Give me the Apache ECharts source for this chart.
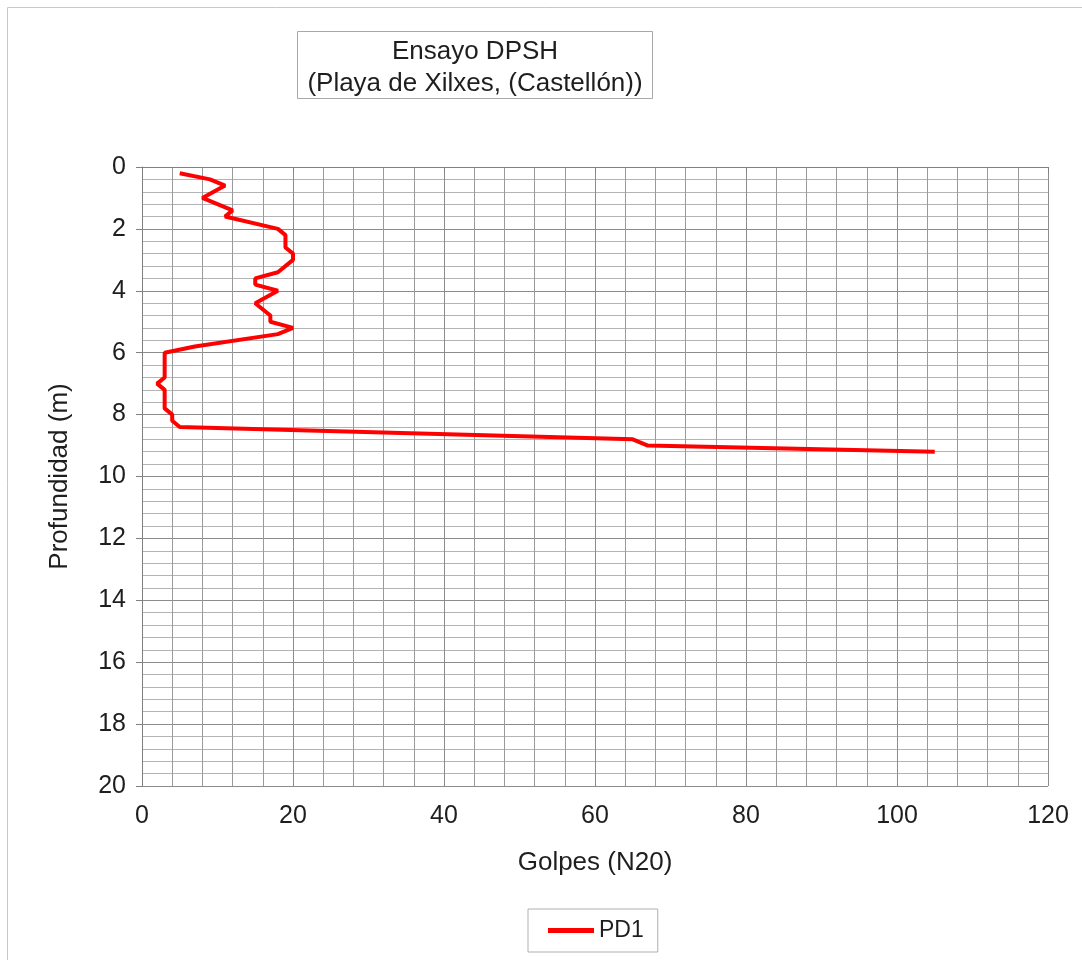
<!DOCTYPE html>
<html>
<head>
<meta charset="utf-8">
<script src="https://cdn.jsdelivr.net/npm/echarts@6/dist/echarts.min.js"></script>
<style>
html,body{margin:0;padding:0;background:#fff;}
#chart{width:1082px;height:960px;}
</style>
</head>
<body>
<div id="chart"></div>
<script>
// Depth (m) and blow counts (N20) for DPSH test PD1
const seriesName = 'PD1';
const depth  = [0.2, 0.4, 0.6, 1.0, 1.4, 1.6, 2.0, 2.2, 2.6, 2.8, 3.0, 3.4, 3.6, 3.8, 4.0, 4.4, 4.8, 5.0, 5.2, 5.4, 5.8, 6.0, 6.8, 7.0, 7.2, 7.8, 8.0, 8.2, 8.4, 8.8, 9.0, 9.2];
const golpes = [5,   9,   11,  8,   12,  11,  18,  19,  19,  20,  20,  18,  15,  15,  18,  15,  17,  17,  20,  18,  7,   3,   3,   2,   3,   3,   4,   4,   5,   65,  67,  105];
const xTicks = [0, 20, 40, 60, 80, 100, 120];
const yTicks = [0, 2, 4, 6, 8, 10, 12, 14, 16, 18, 20];
const titleLines = ['Ensayo DPSH', '(Playa de Xilxes, (Castellón))'];
const xName = 'Golpes (N20)';
const yName = 'Profundidad (m)';

const FONT = '"Liberation Sans", Arial, sans-serif';
const TXT = '#1e1e1e';

const chart = echarts.init(document.getElementById('chart'));
const points = depth.map((d, i) => [golpes[i], d]);

chart.setOption({
  backgroundColor: '#fff',
  animation: false,
  grid: { left: 142, top: 167, right: 34, bottom: 174, containLabel: false },
  xAxis: {
    type: 'value',
    min: xTicks[0], max: xTicks[xTicks.length - 1], interval: 20,
    name: xName, nameLocation: 'middle', nameGap: 64,
    nameTextStyle: { fontFamily: FONT, fontSize: 26, color: TXT },
    axisLine: { show: true, lineStyle: { color: '#808080', width: 1 } },
    axisTick: { show: true, length: 6, lineStyle: { color: '#808080' } },
    axisLabel: { fontFamily: FONT, fontSize: 25, color: TXT, margin: 18 },
    splitLine: { show: true, lineStyle: { color: '#8c8c8c', width: 1 } },
    minorTick: { show: false, splitNumber: 5 },
    minorSplitLine: { show: true, lineStyle: { color: '#9a9a9a', width: 1 } }
  },
  yAxis: {
    type: 'value', inverse: true,
    min: yTicks[0], max: yTicks[yTicks.length - 1], interval: 2,
    name: yName, nameLocation: 'middle', nameGap: 69, nameRotate: 90,
    nameTextStyle: { fontFamily: FONT, fontSize: 26, color: TXT },
    axisLine: { show: true, lineStyle: { color: '#808080', width: 1 } },
    axisTick: { show: true, length: 6, lineStyle: { color: '#808080' } },
    axisLabel: { fontFamily: FONT, fontSize: 25, color: TXT, margin: 16 },
    splitLine: { show: true, lineStyle: { color: '#8c8c8c', width: 1 } },
    minorTick: { show: false, splitNumber: 5 },
    minorSplitLine: { show: true, lineStyle: { color: '#b4b4b4', width: 1 } }
  },
  legend: {
    show: true,
    left: 528, top: 909,
    orient: 'horizontal',
    borderColor: '#b0b0b0', borderWidth: 1, borderRadius: 0,
    padding: [10, 14, 10, 20],
    itemWidth: 46, itemHeight: 5, itemGap: 0,
    icon: 'rect',
    textStyle: { fontFamily: FONT, fontSize: 23, color: TXT },
    data: [seriesName]
  },
  graphic: [
    { type: 'rect', shape: { x: 7.5, y: 7.5, width: 1200, height: 1200 },
      style: { fill: 'none', stroke: '#c8c8c8', lineWidth: 1 }, silent: true },
    { type: 'rect', shape: { x: 297.5, y: 31.5, width: 355, height: 67 },
      style: { fill: '#fff', stroke: '#a8a8a8', lineWidth: 1 }, silent: true },
    { type: 'text', x: 475, y: 36, silent: true,
      style: { text: titleLines.join('\n'), align: 'center', verticalAlign: 'top',
               font: '26px ' + FONT, fill: TXT, lineHeight: 32 } }
  ],
  series: [{
    name: seriesName,
    type: 'line',
    data: points,
    showSymbol: false,
    symbol: 'none',
    color: '#ff0000',
    lineStyle: { color: '#ff0000', width: 4 },
    itemStyle: { color: '#ff0000' }
  }]
});
</script>
</body>
</html>
